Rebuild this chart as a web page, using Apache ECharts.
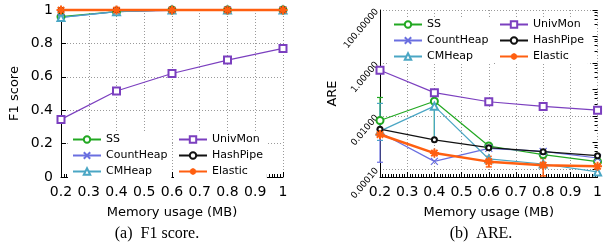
<!DOCTYPE html>
<html>
<head>
<meta charset="utf-8">
<script src="https://cdn.jsdelivr.net/npm/echarts@6/dist/echarts.min.js"></script>
<style>
  html, body { margin: 0; padding: 0; background: #fff; }
  #chart { width: 605px; height: 249px; }
</style>
</head>
<body>
<div id="chart"></div>
<script>
// memory sizes (MB)
const memory = [0.2, 0.4, 0.6, 0.8, 1.0];

// (a) F1 score
const f1SS = [0.96, 0.99, 1, 1, 1];
const f1CountHeap = [0.955, 0.99, 0.998, 1, 1];
const f1CMHeap = [0.955, 0.99, 1, 1, 1];
const f1UnivMon = [0.345, 0.515, 0.62, 0.70, 0.77];
const f1HashPipe = [0.998, 1, 1, 1, 1];
const f1Elastic = [1, 1, 1, 1, 1];

// (b) ARE
const areSS = [0.0068, 0.036, 0.00074, 0.00035, 0.00019];
const areCountHeap = [0.0024, 0.000194, 0.0006, 0.00046, 0.00026];
const areCMHeap = [0.0027, 0.0236, 0.00024, 0.000155, 0.000078];
const areUnivMon = [0.53, 0.076, 0.0346, 0.023, 0.0166];
const areHashPipe = [0.0032, 0.00126, 0.00064, 0.00045, 0.00032];
const areElastic = [0.002, 0.0004, 0.00019, 0.00014, 0.000126];

// error bars: [x, low, high]
const errSS = [[0.2, 0.003, 0.05], [0.4, 0.0013, 0.04]];
const errCMHeap = [[0.2, 0.0012, 0.03], [0.4, 0.0013, 0.03]];
const errCountHeap = [[0.2, 0.00018, 0.003]];
const errElastic = [[0.6, 0.00012, 0.0003], [0.8, 0.000055, 0.00025]];

const colors = {
  SS: '#22a822',
  CountHeap: '#6a6fe0',
  CMHeap: '#4aa6c4',
  UnivMon: '#7b3fbf',
  HashPipe: '#111111',
  Elastic: '#ff5f10'
};
const symbols = {
  SS: { symbol: 'emptyCircle', size: 7, width: 1.2 },
  CountHeap: { symbol: 'path://M0,0L10,10M10,0L0,10', size: 7, width: 1.2 },
  CMHeap: { symbol: 'emptyTriangle', size: 7, width: 1.2 },
  UnivMon: { symbol: 'emptyRect', size: 7, width: 1.2 },
  HashPipe: { symbol: 'emptyCircle', size: 5, width: 1.2 },
  Elastic: { symbol: 'path://M5,0L5,10M0,5L10,5M1.5,1.5L8.5,8.5M8.5,1.5L1.5,8.5', size: 9, width: 2.5 }
};

const FONT = 'DejaVu Sans';

function pairs(values) {
  return memory.map((m, i) => [m, values[i]]);
}

function lineSeries(name, values, gridIdx) {
  const c = colors[name];
  const s = symbols[name];
  return {
    name: name,
    type: 'line',
    xAxisIndex: gridIdx,
    yAxisIndex: gridIdx,
    data: pairs(values),
    symbol: s.symbol,
    symbolSize: s.size,
    showSymbol: true,
    clip: false,
    lineStyle: { color: c, width: s.width },
    itemStyle: { color: c, borderColor: c, borderWidth: name === 'Elastic' ? 2 : 1.2 },
    emphasis: { disabled: true },
    z: name === 'Elastic' ? 5 : 3
  };
}

function errSeries(name, data) {
  const c = colors[name];
  return {
    name: name + ' err',
    type: 'custom',
    xAxisIndex: 1,
    yAxisIndex: 1,
    data: data,
    encode: { x: 0, y: [1, 2] },
    z: 2,
    renderItem: function (params, api) {
      const x = api.value(0);
      const lo = api.coord([x, api.value(1)]);
      const hi = api.coord([x, api.value(2)]);
      const cap = 3;
      const st = { stroke: c, lineWidth: name === 'Elastic' ? 1.5 : 1.2 };
      return {
        type: 'group',
        children: [
          { type: 'line', shape: { x1: lo[0], y1: lo[1], x2: hi[0], y2: hi[1] }, style: st },
          { type: 'line', shape: { x1: lo[0] - cap, y1: lo[1], x2: lo[0] + cap, y2: lo[1] }, style: st },
          { type: 'line', shape: { x1: hi[0] - cap, y1: hi[1], x2: hi[0] + cap, y2: hi[1] }, style: st }
        ]
      };
    }
  };
}

const gridLine = { show: true, lineStyle: { color: '#9a9a9a', type: [1, 2], width: 1 } };

function xAxis(gridIdx) {
  return {
    type: 'value',
    gridIndex: gridIdx,
    min: 0.2,
    max: 1,
    interval: 0.1,
    name: 'Memory usage (MB)',
    nameLocation: 'middle',
    nameGap: 29,
    nameTextStyle: { fontFamily: FONT, fontSize: 13, color: '#000' },
    axisLine: { lineStyle: { color: '#000', width: 1 } },
    axisTick: { inside: true, length: 5, lineStyle: { color: '#000' } },
    minorTick: { show: true, splitNumber: 10, length: 3, lineStyle: { color: '#000' } },
    axisLabel: { fontFamily: FONT, fontSize: 14, color: '#000', margin: 8 },
    splitLine: gridLine
  };
}

function areLabel(v) {
  const e = Math.log10(v);
  return Math.abs(e - Math.round(e)) < 1e-6 ? v.toFixed(5) : '';
}

const legendText = { fontFamily: FONT, fontSize: 11, color: '#000' };
function legend(data, left, top) {
  return {
    data: data,
    orient: 'vertical',
    left: left,
    top: top,
    itemWidth: 28,
    itemHeight: 8,
    itemGap: 5,
    padding: [2, 4],
    backgroundColor: '#fff',
    textStyle: legendText,
    selectedMode: false
  };
}

const option = {
  animation: false,
  backgroundColor: '#fff',
  title: [
    { text: '(a)  F1 score.', left: 152, top: 221, textAlign: 'center',
      textStyle: { fontFamily: 'Liberation Serif', fontSize: 16, fontWeight: 'normal', color: '#000' } },
    { text: '(b)  ARE.', left: 476, top: 221, textAlign: 'center',
      textStyle: { fontFamily: 'Liberation Serif', fontSize: 16, fontWeight: 'normal', color: '#000' } }
  ],
  legend: [
    legend(['SS', 'CountHeap', 'CMHeap'], 68, 132),
    legend(['UnivMon', 'HashPipe', 'Elastic'], 174, 132),
    legend(['SS', 'CountHeap', 'CMHeap'], 389, 17),
    legend(['UnivMon', 'HashPipe', 'Elastic'], 495, 17)
  ],
  grid: [
    { left: 61, top: 10, width: 222, height: 167 },
    { left: 380, top: 10, width: 224, height: 167 }
  ],
  xAxis: [xAxis(0), xAxis(1)],
  yAxis: [
    {
      type: 'value',
      gridIndex: 0,
      min: 0,
      max: 1,
      interval: 0.2,
      name: 'F1 score',
      nameLocation: 'middle',
      nameGap: 40,
      nameTextStyle: { fontFamily: FONT, fontSize: 13, color: '#000' },
      axisLine: { show: true, lineStyle: { color: '#000', width: 1 } },
      axisTick: { show: true, inside: true, length: 5, lineStyle: { color: '#000' } },
      axisLabel: { fontFamily: FONT, fontSize: 14, color: '#000', margin: 8 },
      splitLine: gridLine
    },
    {
      type: 'log',
      logBase: 100,
      gridIndex: 1,
      min: 0.00005,
      max: 100,
      name: 'ARE',
      nameLocation: 'middle',
      nameGap: 37,
      nameTextStyle: { fontFamily: FONT, fontSize: 13, color: '#000' },
      axisLine: { show: true, lineStyle: { color: '#000', width: 1 } },
      axisTick: { show: false },
      axisLabel: { fontFamily: FONT, fontSize: 9, color: '#000', rotate: 50, margin: 3,
        formatter: areLabel },
      splitLine: gridLine
    },
    {
      type: 'log',
      logBase: 10,
      gridIndex: 1,
      min: 0.00005,
      max: 100,
      axisLine: { show: false },
      axisTick: { show: true, inside: true, length: 5, lineStyle: { color: '#000' } },
      minorTick: { show: true, splitNumber: 5, length: 3, lineStyle: { color: '#000' } },
      axisLabel: { show: false },
      splitLine: { show: false }
    }
  ],
  series: [
    lineSeries('SS', f1SS, 0),
    lineSeries('CountHeap', f1CountHeap, 0),
    lineSeries('CMHeap', f1CMHeap, 0),
    lineSeries('UnivMon', f1UnivMon, 0),
    lineSeries('HashPipe', f1HashPipe, 0),
    lineSeries('Elastic', f1Elastic, 0),
    lineSeries('SS', areSS, 1),
    lineSeries('CountHeap', areCountHeap, 1),
    lineSeries('CMHeap', areCMHeap, 1),
    lineSeries('UnivMon', areUnivMon, 1),
    lineSeries('HashPipe', areHashPipe, 1),
    lineSeries('Elastic', areElastic, 1),
    errSeries('SS', errSS),
    errSeries('CMHeap', errCMHeap),
    errSeries('CountHeap', errCountHeap),
    errSeries('Elastic', errElastic)
  ]
};

const chart = echarts.init(document.getElementById('chart'), null, { renderer: 'canvas' });
chart.setOption(option);
</script>
</body>
</html>
